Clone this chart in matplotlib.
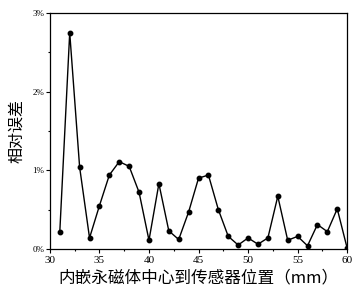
import numpy as np
import matplotlib
matplotlib.use("Agg")
import matplotlib.pyplot as plt
from matplotlib.ticker import MultipleLocator, FuncFormatter

# distance from magnet centre to sensor (mm) and relative error (%)
pos = [31, 32, 33, 34, 35, 36, 37, 38, 39, 40, 41, 42, 43, 44, 45,
       46, 47, 48, 49, 50, 51, 52, 53, 54, 55, 56, 57, 58, 59, 60]
err = [0.22, 2.75, 1.04, 0.14, 0.55, 0.94, 1.11, 1.05, 0.72, 0.11,
       0.83, 0.23, 0.12, 0.47, 0.90, 0.94, 0.50, 0.16, 0.05, 0.14,
       0.06, 0.14, 0.67, 0.11, 0.16, 0.04, 0.31, 0.22, 0.51, 0.01]

cjk = ['Noto Sans CJK SC', 'DejaVu Sans']
serif = 'Liberation Serif'

fig = plt.figure(figsize=(3.59, 2.96), dpi=100)
ax = fig.add_axes([0.139, 0.159, 0.828, 0.797])

ax.plot(pos, err, color='black', lw=1.0, marker='o', ms=3.2)

ax.set_xlim(30, 60)
ax.set_ylim(0, 3)
ax.xaxis.set_major_locator(MultipleLocator(5))
ax.xaxis.set_minor_locator(MultipleLocator(2.5))
ax.yaxis.set_major_locator(MultipleLocator(1))
ax.yaxis.set_minor_locator(MultipleLocator(0.5))
ax.yaxis.set_major_formatter(FuncFormatter(lambda v, p: '%d%%' % v))

ax.tick_params(which='major', direction='out', length=3, width=0.8)
ax.tick_params(which='minor', direction='out', length=1.5, width=0.8)
ax.tick_params(axis='x', labelsize=8, pad=2)
ax.tick_params(axis='y', labelsize=6.5, pad=1)
for lab in ax.get_xticklabels() + ax.get_yticklabels():
    lab.set_fontfamily(serif)

for s in ax.spines.values():
    s.set_linewidth(0.9)

ax.set_xlabel('内嵌永磁体中心到传感器位置（mm）', family=cjk, fontsize=12, labelpad=3)
ax.set_ylabel('相对误差', family=cjk, fontsize=11.5, labelpad=5)

fig.savefig('out.png', dpi=100)
